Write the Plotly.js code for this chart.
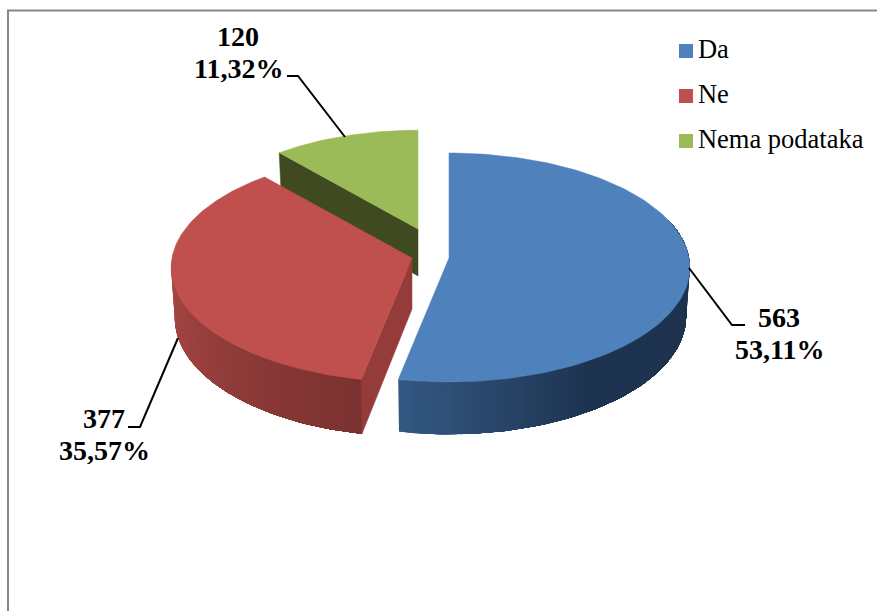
<!DOCTYPE html>
<html><head><meta charset="utf-8">
<script src="https://cdn.plot.ly/plotly-3.0.1.min.js"></script>
<style>html,body{margin:0;padding:0;background:#fff}#c{width:877px;height:611px}</style>
</head><body><div id="c"></div>
<script>
const categories = ["Da", "Ne", "Nema podataka"];
const values = [563, 377, 120];
const topColors = ["#4F81BD", "#C0504D", "#9BBB59"];
const sideFrom = [[51,88,130],[172,72,70],[62,74,33]];
const sideTo = [[30,51,80],[122,50,48],[62,74,33]];
const sideRate = [2.8, 1, 1];
const apexX = [449, 412, 418];
const apexY = [258, 258, 229];
const radX = [240, 240, 226];
const radY = [113.7, 113.7, 107];
const depth = [48, 50, 46];
const persp = 0.083;
const labelX = [779, 104, 238];
const labelTopY = [317, 418, 36];
const labelBottomY = [349, 450, 68];
const legendX = [686, 686, 686];
const legendY = [51, 96, 141];
const leaderX = [[689,732,745],[178,140,128],[345,298,287]];
const leaderY = [[268,325,325],[338,427,427],[137,76,76]];
const frameColor = "#868686";
const FONT = "Liberation Serif";

const total = values.reduce((a,b)=>a+b,0);
const angles = []; let acc = 0;
values.forEach(v=>{ angles.push([acc/total*360,(acc+v)/total*360]); acc+=v; });

function proj(i,deg,d,shrink){
  const r=deg*Math.PI/180, X=Math.sin(r), Y=-Math.cos(r), s=1/(1-persp*Y);
  return [apexX[i]+radX[i]*X*s*shrink, apexY[i]+radY[i]*Y*s+d*s];
}
function topFace(i){
  const [a,b]=angles[i], xs=[apexX[i]], ys=[apexY[i]];
  for(let k=0;k<=120;k++){const p=proj(i,a+(b-a)*k/120,0,1);xs.push(p[0]);ys.push(p[1]);}
  xs.push(apexX[i]);ys.push(apexY[i]);
  return {x:xs,y:ys,type:"scatter",mode:"lines",fill:"toself",fillcolor:topColors[i],
    line:{color:topColors[i],width:0.5},showlegend:false,hoverinfo:"skip"};
}
// side wall: each strip runs from its own start to the end of the wall and the next strip paints over it, so no seams show
function strips(i,from,to){
  const out=[],n=Math.round(Math.abs(to-from)/1.5),step=(to-from)/n;
  for(let k=0;k<n;k++){
    const a=from+step*k,f=Math.min(1,k/(n-1)*sideRate[i]);
    const c=sideFrom[i].map((v,j)=>Math.round(v+(sideTo[i][j]-v)*f));
    const col="rgb("+c.join(",")+")";
    const xs=[],ys=[],xb=[],yb=[],m=Math.max(2,n-k);
    for(let q=0;q<=m;q++){
      const t=a+(to-a)*q/m,p=proj(i,t,0,1),b=proj(i,t,depth[i],0.985);
      xs.push(p[0]);ys.push(p[1]);xb.unshift(b[0]);yb.unshift(b[1]);
    }
    out.push({x:xs.concat(xb,xs[0]),y:ys.concat(yb,ys[0]),type:"scatter",mode:"lines",
      fill:"toself",fillcolor:col,line:{color:col,width:0},showlegend:false,hoverinfo:"skip"});
  }
  return out;
}
function cutFace(i,deg,col){
  const a=proj(i,deg,0,1),b=proj(i,deg,depth[i],0.985);
  const cx=apexX[i],cy=apexY[i],cb=cy+depth[i]+1;
  return {x:[cx,a[0],b[0],cx,cx],y:[cy,a[1],b[1],cb,cy],type:"scatter",mode:"lines",fill:"toself",
    fillcolor:col,line:{color:col,width:0.5},showlegend:false,hoverinfo:"skip"};
}
const traces=[];
traces.push(cutFace(2,angles[2][0],"#3F4A21"));
traces.push(topFace(2));
traces.push(...strips(1,270,angles[1][0]));
traces.push(cutFace(1,angles[1][0],"#953C3A"));
traces.push(topFace(1));
traces.push(...strips(0,angles[0][1],70));
traces.push(topFace(0));
leaderX.forEach((lx,i)=>traces.push({x:lx,y:leaderY[i],type:"scatter",mode:"lines",
  line:{color:"#000",width:2},showlegend:false,hoverinfo:"skip"}));
categories.forEach((c,i)=>traces.push({x:[legendX[i]],y:[legendY[i]],name:c,type:"scatter",mode:"markers+text",
  marker:{symbol:"square",size:14,color:topColors[i]},text:["\u200A"+c],textposition:"middle right",
  textfont:{family:FONT,size:26.5,color:"#000"},showlegend:false,hoverinfo:"skip"}));

const annotations=[];
values.forEach((v,i)=>{
  annotations.push({x:labelX[i],y:labelTopY[i],xref:"x",yref:"y",showarrow:false,
    text:"<b>"+v+"</b>",font:{family:FONT,size:28,color:"#000"}});
  annotations.push({x:labelX[i],y:labelBottomY[i],xref:"x",yref:"y",showarrow:false,
    text:"<b>"+(v/total*100).toFixed(2).replace(".",",")+"%</b>",font:{family:FONT,size:28,color:"#000"}});
});

const layout={width:877,height:611,margin:{l:0,r:0,t:0,b:0},paper_bgcolor:"#fff",plot_bgcolor:"#fff",
  font:{family:FONT},showlegend:false,
  xaxis:{range:[0,877],visible:false,fixedrange:true},
  yaxis:{range:[611,0],visible:false,fixedrange:true},
  annotations,
  shapes:[{type:"path",path:"M 8 611 L 8 10.5 L 877 10.5",line:{color:frameColor,width:2},xref:"x",yref:"y"}]};
Plotly.newPlot("c",traces,layout,{displayModeBar:false,staticPlot:true});
</script></body></html>
